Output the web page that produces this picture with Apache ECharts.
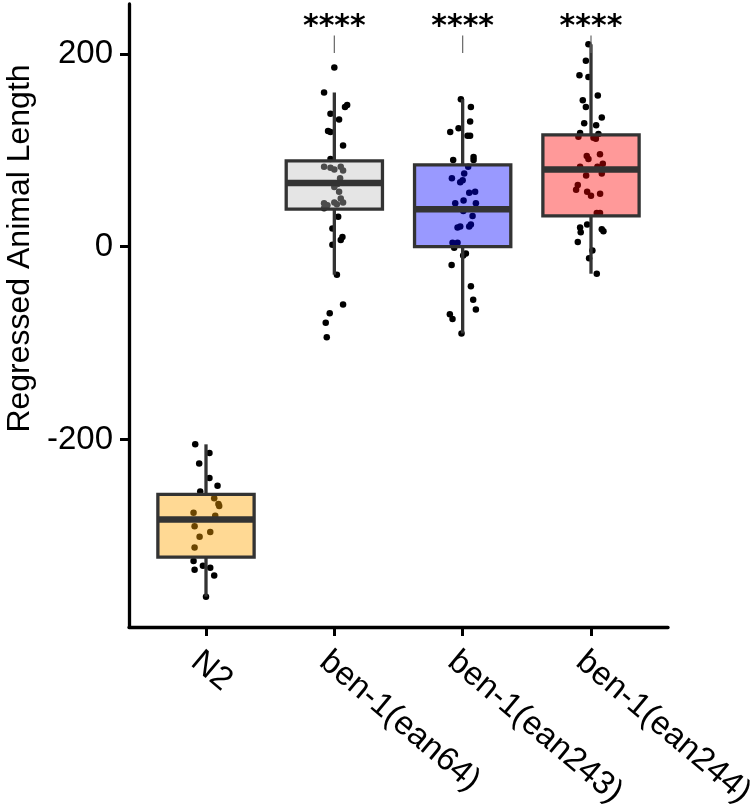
<!DOCTYPE html>
<html><head><meta charset="utf-8">
<script src="https://cdn.jsdelivr.net/npm/echarts@6/dist/echarts.min.js"></script>
<style>html,body{margin:0;padding:0;background:#fff}#c{width:750px;height:804px}</style>
</head><body><div id="c"></div>
<script>
// ---------- data ----------
const categories = ['N2', 'ben-1(ean64)', 'ben-1(ean243)', 'ben-1(ean244)'];
const yTicks = [-200, 0, 200];
const xTicks = [1, 2, 3, 4];

// box statistics: [lower whisker, Q1, median, Q3, upper whisker]
const boxN2 = [-363, -322, -283, -257, -205];
const boxEan64 = [-29, 39, 66, 89, 160];
const boxEan243 = [-90, 0, 39, 85, 153];
const boxEan244 = [-28, 32, 80, 116, 210];

// jittered raw observations (value, horizontal jitter in category units)
const ptsN2 = [-205, -214, -225, -240, -248, -254, -261, -267, -269, -276, -279, -290, -301, -296, -312, -326, -335, -331, -333, -341, -363];
const jitN2 = [-0.084, 0.027, -0.053, 0.027, 0.09, -0.045, 0.064, 0.097, 0.103, -0.097, 0.072, -0.089, -0.05, 0.033, -0.089, -0.097, -0.089, -0.024, 0.033, 0.064, 0.0];

const ptsEan64 = [186, 160, 145, 147, 138, 132, 120, 119, 105, 91, 83, 82, 83, 79, 80, 71, 65, 62, 57, 50, 46, 45, 43, 46, 40, 44, 31, 19, 10, 7, 2, -29, -60, -69, -79, -94];
const jitEan64 = [0.0, -0.08, 0.083, 0.1, -0.03, 0.037, -0.049, -0.03, 0.068, -0.03, -0.08, -0.03, 0.05, 0.068, 0.0, 0.045, 0.024, 0.0, 0.037, 0.05, 0.0, -0.08, -0.054, 0.068, -0.08, 0.02, 0.03, -0.015, 0.063, 0.05, -0.015, 0.02, 0.068, -0.036, -0.067, -0.059];

const ptsEan243 = [153, 145, 130, 123, 119, 115, 115, 90, 93, 90, 83, 76, 71, 69, 67, 56, 57, 45, 48, 45, 37, 32, 23, 21, 20, 21, 4, 4, -1, -9, -7, -19, -41, -55, -65, -70, -75, -90];
const jitEan243 = [-0.014, 0.064, 0.058, -0.032, -0.097, 0.038, 0.058, -0.074, 0.085, 0.085, 0.043, 0.012, -0.084, 0.0, -0.019, 0.051, 0.097, -0.058, 0.007, 0.103, 0.005, 0.077, 0.064, -0.019, -0.04, 0.051, -0.079, -0.04, -0.066, 0.004, 0.025, -0.086, 0.064, 0.082, 0.103, -0.1, -0.079, -0.009];

const ptsEan244 = [210, 193, 178, 176, 157, 152, 145, 134, 128, 126, 118, 117, 114, 113, 112, 94, 91, 96, 86, 83, 83, 76, 74, 64, 59, 57, 53, 55, 35, 35, 23, 20, 15, 18, 16, 5, -4, -12, -28];
const jitEan244 = [-0.02, -0.04, -0.09, -0.02, 0.053, -0.064, -0.04, 0.084, -0.053, 0.04, -0.085, 0.058, -0.098, 0.019, 0.038, -0.033, -0.02, 0.07, 0.092, 0.05, -0.085, 0.084, -0.038, -0.103, -0.116, -0.03, 0.0, 0.071, 0.045, 0.07, -0.03, -0.085, -0.08, 0.084, 0.097, -0.103, 0.011, -0.015, 0.045];

// significance annotations
const sigLabels = ['', '****', '****', '****'];
const sigTextY = 228;
const sigLineLow = 201;
const sigLineHigh = 219;

// ---------- build ----------
const boxStats = [boxN2, boxEan64, boxEan243, boxEan244];
const boxFills = ['rgba(255,165,0,0.42)', 'rgba(190,190,190,0.4)', 'rgba(0,0,255,0.4)', 'rgba(255,0,0,0.4)'];
const allPts = [ptsN2, ptsEan64, ptsEan243, ptsEan244];
const allJit = [jitN2, jitEan64, jitEan243, jitEan244];

const scatterData = [];
allPts.forEach((arr, i) => arr.forEach((v, k) => scatterData.push([i + 1 + allJit[i][k], v])));

const boxData = boxStats.map((b, i) => [i + 1].concat(b));
const sigData = [];
sigLabels.forEach((s, i) => { if (s) sigData.push([i + 1, sigTextY, sigLineLow, sigLineHigh, i]); });

const FONT = '"Liberation Sans", Arial, sans-serif';
const chart = echarts.init(document.getElementById('c'), null, { renderer: 'canvas' });
chart.setOption({
  animation: false,
  backgroundColor: '#ffffff',
  grid: { left: 129, right: 82, top: 4, bottom: 177, containLabel: false, outerBoundsMode: 'none' },
  xAxis: {
    type: 'value', min: 0.4, max: 4.6,
    splitLine: { show: false },
    axisLine: { show: true, onZero: false, lineStyle: { color: '#000', width: 3.3 } },
    axisTick: { show: true, customValues: xTicks, length: 9, lineStyle: { color: '#000', width: 3 } },
    axisLabel: {
      customValues: xTicks, rotate: -40, margin: 18, verticalAlign: 'top',
      hideOverlap: false, showMinLabel: true, showMaxLabel: true,
      fontFamily: FONT, fontSize: 33, color: '#000',
      formatter: v => categories[Math.round(v) - 1]
    }
  },
  yAxis: {
    type: 'value', min: -394.5, max: 251.8,
    name: 'Regressed Animal Length', nameLocation: 'middle', nameRotate: 90, nameGap: 92,
    nameTextStyle: { fontFamily: FONT, fontSize: 32, color: '#000', padding: [0, 0, 0, 134] },
    splitLine: { show: false },
    axisLine: { show: true, onZero: false, lineStyle: { color: '#000', width: 3.3 } },
    axisTick: { show: true, customValues: yTicks, length: 9, lineStyle: { color: '#000', width: 3 } },
    axisLabel: { customValues: yTicks, margin: 16, fontFamily: FONT, fontSize: 33, color: '#000' }
  },
  series: [
    {
      type: 'scatter', data: scatterData, symbol: 'circle', symbolSize: 6.5,
      itemStyle: { color: '#000', opacity: 1 }, z: 2, silent: true
    },
    {
      type: 'custom', data: boxData, z: 3, silent: true,
      renderItem: (params, api) => {
        const x = api.value(0);
        const pLow = api.coord([x, api.value(1)]);
        const pQ1 = api.coord([x, api.value(2)]);
        const pMed = api.coord([x, api.value(3)]);
        const pQ3 = api.coord([x, api.value(4)]);
        const pHigh = api.coord([x, api.value(5)]);
        const w = api.size([0.75, 0])[0];
        const cx = pMed[0];
        const stroke = '#333333';
        return {
          type: 'group',
          children: [
            { type: 'line', shape: { x1: cx, y1: pHigh[1], x2: cx, y2: pQ3[1] }, style: { stroke, lineWidth: 3.3 } },
            { type: 'line', shape: { x1: cx, y1: pQ1[1], x2: cx, y2: pLow[1] }, style: { stroke, lineWidth: 3.3 } },
            { type: 'rect', shape: { x: cx - w / 2, y: pQ3[1], width: w, height: pQ1[1] - pQ3[1] },
              style: { fill: boxFills[params.dataIndex], stroke, lineWidth: 3.3 } },
            { type: 'line', shape: { x1: cx - w / 2, y1: pMed[1], x2: cx + w / 2, y2: pMed[1] }, style: { stroke, lineWidth: 6.5 } }
          ]
        };
      }
    },
    {
      type: 'custom', data: sigData, z: 4, silent: true,
      renderItem: (params, api) => {
        const x = api.value(0);
        const pT = api.coord([x, api.value(1)]);
        const pL = api.coord([x, api.value(2)]);
        const pH = api.coord([x, api.value(3)]);
        return {
          type: 'group',
          children: [
            { type: 'text', style: { text: sigLabels[api.value(4)], x: pT[0], y: pT[1], align: 'center', verticalAlign: 'middle',
              font: 'bold 30px "DejaVu Sans"', fill: '#000' } },
            { type: 'line', shape: { x1: pL[0], y1: pL[1], x2: pH[0], y2: pH[1] }, style: { stroke: '#666', lineWidth: 1.2 } }
          ]
        };
      }
    }
  ]
});
</script></body></html>
